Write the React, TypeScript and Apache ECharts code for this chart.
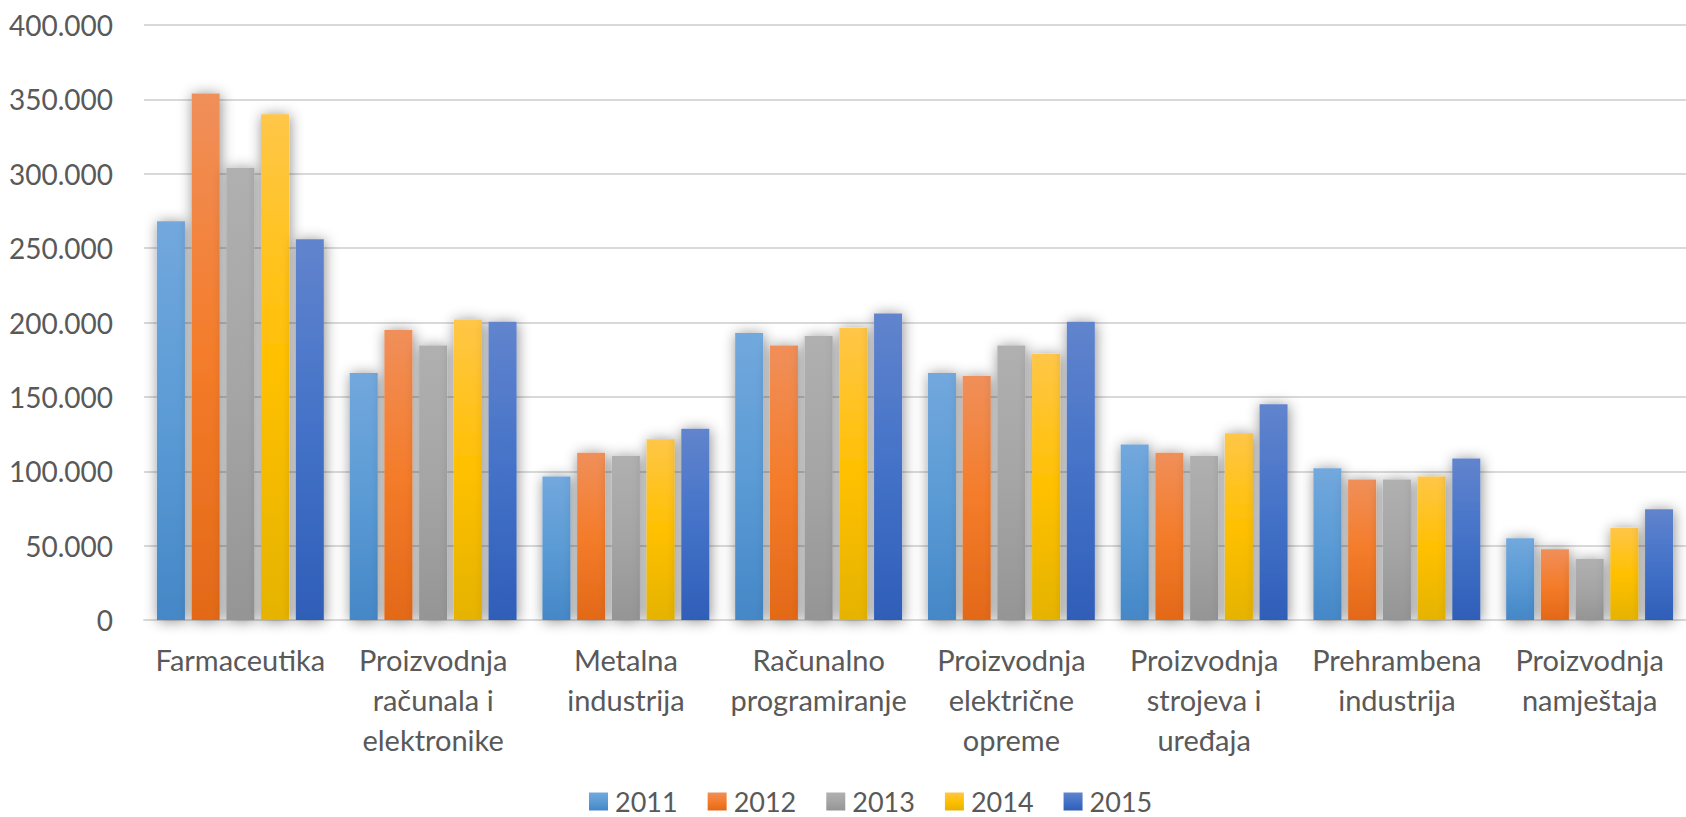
import React, { useEffect, useRef } from "react";
import * as echarts from "echarts";

const categories = [
  "Farmaceutika",
  "Proizvodnja\nračunala i\nelektronike",
  "Metalna\nindustrija",
  "Računalno\nprogramiranje",
  "Proizvodnja\nelektrične\nopreme",
  "Proizvodnja\nstrojeva i\nuređaja",
  "Prehrambena\nindustrija",
  "Proizvodnja\nnamještaja",
];

const years = ["2011", "2012", "2013", "2014", "2015"];

const values2011 = [268000, 166000, 96500, 193000, 166000, 118000, 102000, 55000];
const values2012 = [354000, 195000, 112500, 184500, 164000, 112500, 94500, 47500];
const values2013 = [304000, 184500, 110500, 191000, 184500, 110500, 94500, 41000];
const values2014 = [340000, 202000, 121500, 196500, 179000, 125500, 96500, 62000];
const values2015 = [256000, 200500, 128500, 206000, 200500, 145000, 108500, 74500];

const seriesValues = [values2011, values2012, values2013, values2014, values2015];

const yTicks = { min: 0, max: 400000, interval: 50000 };

const gradients = [
  ["#72a8dd", "#5b9bd5", "#4587c7"],
  ["#f08f5a", "#f47c2a", "#e36918"],
  ["#b0b0b0", "#a5a5a5", "#959595"],
  ["#ffc648", "#ffc000", "#e5b300"],
  ["#6184cd", "#4472c8", "#2f5eb8"],
];

const FONT = "Lato";
const TEXT = "#595959";

function fmt(v: number): string {
  if (v === 0) return "0";
  const s = String(Math.round(v));
  return s.replace(/\B(?=(\d{3})+(?!\d))/g, ".");
}

export default function App() {
  const ref = useRef<HTMLDivElement>(null);
  useEffect(() => {
    if (!ref.current) return;
    const chart = echarts.init(ref.current, undefined, { renderer: "svg" });
    const series = years.map((y, i) => ({
      name: y,
      type: "bar" as const,
      data: seriesValues[i],
      barWidth: 28,
      barGap: "24%",
      itemStyle: {
        color: new echarts.graphic.LinearGradient(0, 0, 0, 1, [
          { offset: 0, color: gradients[i][0] },
          { offset: 0.5, color: gradients[i][1] },
          { offset: 1, color: gradients[i][2] },
        ]),
        shadowBlur: 14,
        shadowColor: "rgba(0,0,0,0.45)",
        shadowOffsetX: 1,
        shadowOffsetY: 1,
      },
      emphasis: { disabled: true },
    }));
    chart.setOption({
      animation: false,
      backgroundColor: "#ffffff",
      grid: { left: 144, right: -11, top: 25, bottom: 197, containLabel: false },
      legend: {
        data: years,
        left: 589,
        top: 788,
        padding: 0,
        itemWidth: 19,
        itemHeight: 18,
        itemGap: 30,
        icon: "rect",
        itemStyle: { shadowBlur: 0, shadowColor: "transparent" },
        textStyle: {
          fontFamily: FONT,
          fontSize: 27,
          color: TEXT,
          padding: [0, 0, 0, 2],
        },
      },
      xAxis: {
        type: "category",
        data: categories,
        axisLine: { show: true, lineStyle: { color: "#d9d9d9", width: 2 } },
        axisTick: { show: false },
        axisLabel: {
          interval: 0,
          margin: 19,
          fontFamily: FONT,
          fontSize: 29,
          lineHeight: 40,
          color: TEXT,
          align: "center",
          verticalAlign: "top",
        },
      },
      yAxis: {
        type: "value",
        min: yTicks.min,
        max: yTicks.max,
        interval: yTicks.interval,
        axisLine: { show: false },
        axisTick: { show: false },
        splitLine: { lineStyle: { color: "#d9d9d9", width: 2 } },
        axisLabel: {
          margin: 31,
          fontFamily: FONT,
          fontSize: 28,
          color: TEXT,
          formatter: (v: number) => fmt(v),
        },
      },
      series,
    });
    return () => chart.dispose();
  }, []);
  return (
    <div
      ref={ref}
      style={{ position: "absolute", left: 0, top: 0, width: 1686, height: 817 }}
    />
  );
}
